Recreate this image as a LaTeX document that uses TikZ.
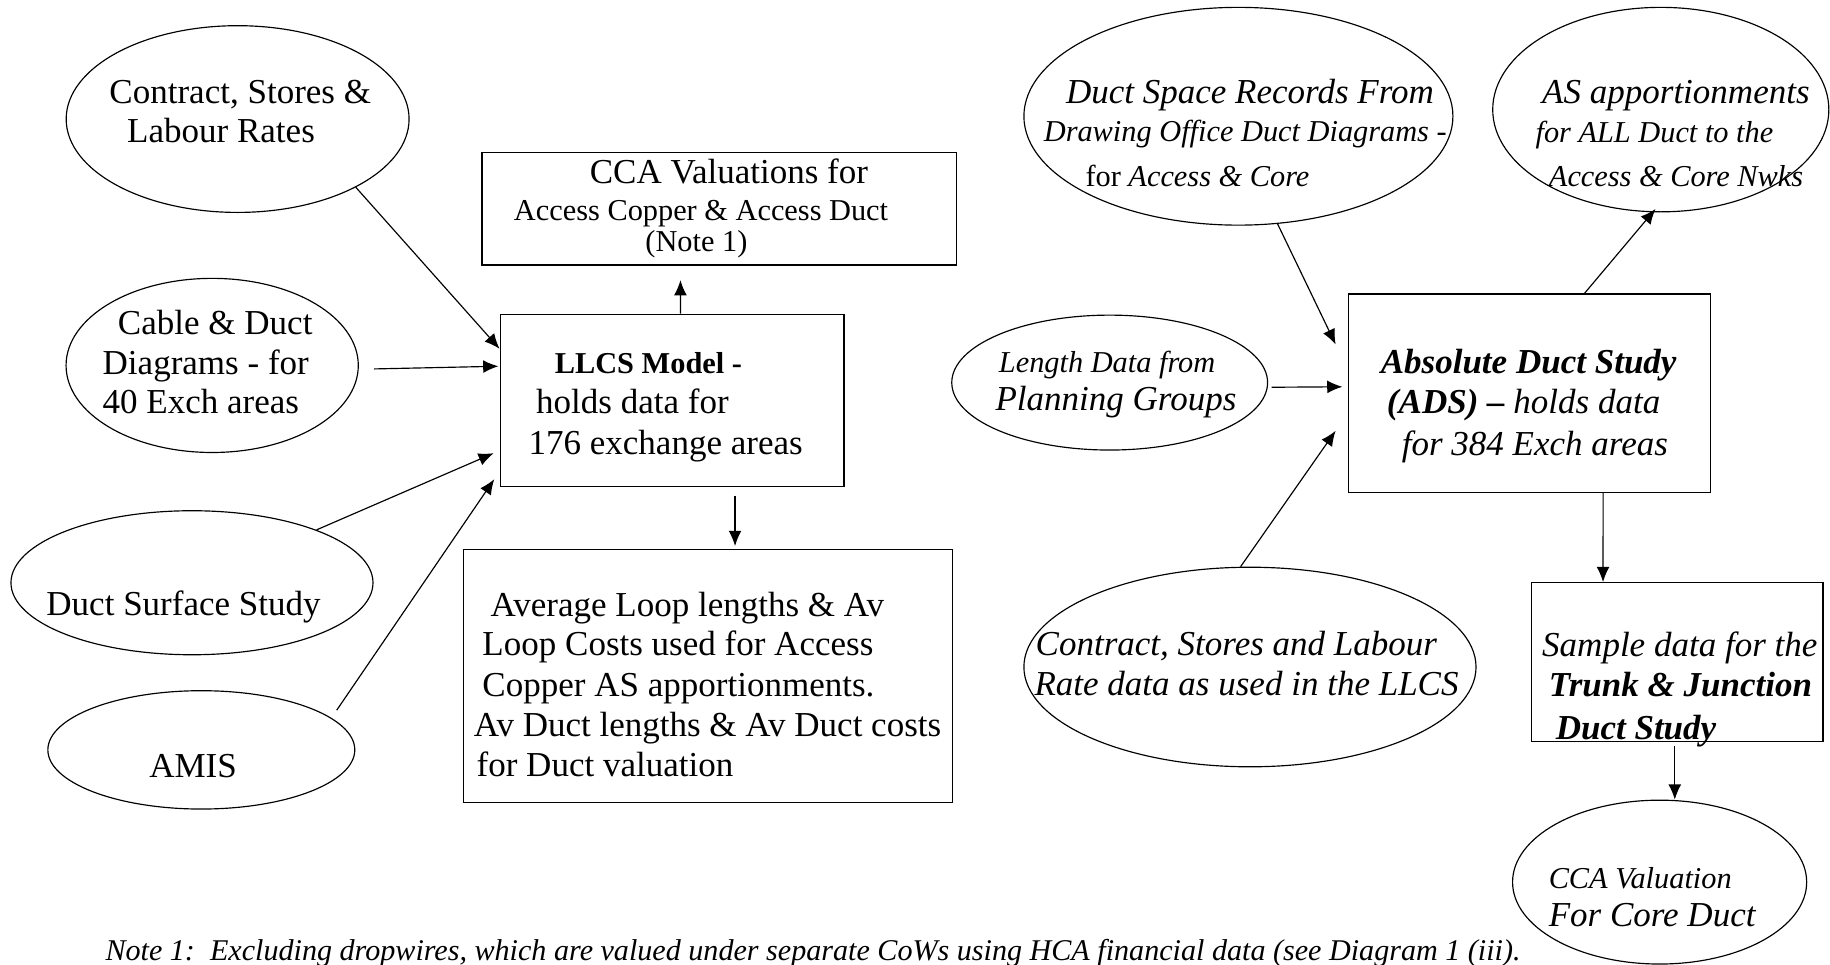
\documentclass[tikz,border=0pt]{standalone}
\usepackage{fontspec}
\setmainfont{Liberation Serif}
\usetikzlibrary{shapes.geometric,arrows.meta,calc}
\tikzset{
  ell/.style={draw, ellipse, inner sep=0pt, line width=0.5pt},
  box/.style={draw, rectangle, inner sep=0pt, line width=0.6pt},
  txt/.style={anchor=base west, inner sep=0pt, font=\fontsize{15}{18}\selectfont},
  txs/.style={anchor=base west, inner sep=0pt, font=\fontsize{13}{16}\selectfont},
  arr/.style={-{Latex[length=6.5pt,width=5.5pt]}, line width=0.5pt},
}
\begin{document}
\begin{tikzpicture}[x=0.5pt,y=-0.5pt]
\fill[white] (0,0) rectangle (1568,826);
\useasboundingbox (0,0) rectangle (1568,826);

% ---------------- left part ----------------
\node[ell, minimum width=146.9pt, minimum height=80pt] (E1) at (203.6,102) {};
\node[txt] (t1a) at (93.4,89) {Contract, Stores \&};
\node[txt] (t1b) at (108.6,122) {Labour Rates};

\node[ell, minimum width=125.2pt, minimum height=74.6pt] (E2) at (181.8,313.1) {};
\node[txt] (t2a) at (100.7,286.6) {Cable \& Duct};
\node[txt] (t2b) at (87.6,320.6) {Diagrams - for};
\node[txt] (t2c) at (87.6,354.5) {40 Exch areas};

\node[ell, minimum width=155.1pt, minimum height=61.7pt] (E3) at (164.5,499.3) {};
\node[txt] (t3) at (39.4,527.5) {Duct Surface Study};

\node[ell, minimum width=131.5pt, minimum height=50.7pt] (E4) at (172.5,642.5) {};
\node[txt] (t4) at (127.5,666) {AMIS};

\node[box, minimum width=203.3pt, minimum height=48.25pt] (CCA) at (616.3,178.8) {};
\node[txt] (tc1) at (505,157) {CCA Valuations for};
\node[txs] (tc2) at (440,188.6) {Access Copper \& Access Duct};
\node[txs] (tc3) at (552.6,215.7) {(Note 1)};

\node[box, minimum width=147.2pt, minimum height=73.8pt] (LLCS) at (575.8,343.2) {};
\node[txs, font=\fontsize{13}{16}\selectfont\bfseries] (tl1) at (475,320) {LLCS Model -};
\node[txt] (tl2) at (459,354) {holds data for};
\node[txt] (tl3) at (452.5,389) {176 exchange areas};

\node[box, minimum width=209.5pt, minimum height=108.4pt] (AVG) at (606.5,579.1) {};
\node[txt] (ta1) at (420,528) {Average Loop lengths \& Av};
\node[txt] (ta2) at (413,562) {Loop Costs used for Access};
\node[txt] (ta3) at (413,596.5) {Copper AS apportionments.};
\node[txt] (ta4) at (405.6,630.7) {Av Duct lengths \& Av Duct costs};
\node[txt] (ta5) at (408,665) {for Duct valuation};

% ---------------- right part ----------------
\node[ell, minimum width=183.8pt, minimum height=93.3pt] (E5) at (1061.1,99.6) {};
\node[txt, font=\fontsize{15}{18}\selectfont\itshape] (t5a) at (913,88.5) {Duct Space Records From};
\node[txs, font=\fontsize{13}{16}\selectfont\itshape] (t5b) at (894,121.4) {Drawing Office Duct Diagrams -};
\node[txs] (t5c) at (929.7,160) {for \textit{Access \& Core}};

\node[ell, minimum width=144pt, minimum height=87.6pt] (E6) at (1423,93.9) {};
\node[txt, font=\fontsize{15}{18}\selectfont\itshape] (t6a) at (1321,88.6) {AS apportionments};
\node[txs, font=\fontsize{13}{16}\selectfont\itshape] (t6b) at (1315.3,122.5) {for ALL Duct to the};
\node[txs, font=\fontsize{13}{16}\selectfont\itshape] (t6c) at (1326.8,160) {Access \& Core Nwks};

\node[ell, minimum width=135.3pt, minimum height=57.8pt] (E7) at (950.8,327.8) {};
\node[txs, font=\fontsize{13}{16}\selectfont\itshape] (t7a) at (855.5,319.3) {Length Data from};
\node[txt, font=\fontsize{15}{18}\selectfont\itshape] (t7b) at (852.6,351.4) {Planning Groups};

\node[box, minimum width=155pt, minimum height=85pt] (ADS) at (1310.6,337) {};
\node[txt, font=\fontsize{15}{18}\selectfont\bfseries\itshape] (td1) at (1182.7,320) {Absolute Duct Study};
\node[txt, font=\fontsize{15}{18}\selectfont\itshape] (td2) at (1188,354) {{\bfseries (ADS) –} holds data};
\node[txt, font=\fontsize{15}{18}\selectfont\itshape] (td3) at (1200.7,390) {for 384 Exch areas};

\node[ell, minimum width=193.7pt, minimum height=85.5pt] (E8) at (1071,571.5) {};
\node[txt, font=\fontsize{15}{18}\selectfont\itshape] (t8a) at (887,561.3) {Contract, Stores and Labour};
\node[txt, font=\fontsize{15}{18}\selectfont\itshape] (t8b) at (886,595.6) {Rate data as used in the LLCS};

\node[box, minimum width=125pt, minimum height=67.9pt] (SAM) at (1437,567.2) {};
\node[txt, font=\fontsize{15}{18}\selectfont\itshape] (ts1) at (1321,562.7) {Sample data for the};
\node[txt, font=\fontsize{15}{18}\selectfont\bfseries\itshape] (ts2) at (1326.6,597) {Trunk \& Junction};
\node[txt, font=\fontsize{15}{18}\selectfont\bfseries\itshape] (ts3) at (1332.6,633.5) {Duct Study};

\node[ell, minimum width=126pt, minimum height=70.2pt] (E9) at (1422,755.8) {};
\node[txs, font=\fontsize{13}{16}\selectfont\itshape] (t9a) at (1326.6,761) {CCA Valuation};
\node[txt, font=\fontsize{15}{18}\selectfont\itshape] (t9b) at (1326.6,794) {For Core Duct};

% note
\node[txs, font=\fontsize{12.9}{15}\selectfont\itshape] (note) at (90,823) {Note 1:\ \ Excluding dropwires, which are valued under separate CoWs using HCA financial data (see Diagram 1 (iii).};

% ---------------- connectors ----------------
\draw[arr] (E1.-30) -- ($(LLCS.north west)+(0,30)$);
\draw[arr] ($(E2.east)+(13,3)$) -- ($(LLCS.north west)+(-1,45)$);
\draw[arr] (E3.23) -- ($(LLCS.north west)+(-5,119.5)$);
\draw[arr] ($(E4.center)+(116,-34)$) -- ($(LLCS.south west)+(-4.5,-7)$);
\draw[arr] ($(LLCS.north)+(7.2,0)$) -- ($(CCA.south)+(-33.3,12.4)$);
\draw[arr] ($(LLCS.south)+(54,7)$) -- ($(AVG.north)+(23.3,-2.3)$);

\draw[arr] (E5.-70) -- ($(ADS.north west)+(-10.6,43.7)$);
\draw[arr] ($(E7.east)+(3,4)$) -- ($(ADS.north west)+(-4.8,80)$);
\draw[arr] ($(E8.north)+(-8,0)$) -- ($(ADS.south west)+(-10.6,-53.5)$);
\draw[arr] ($(ADS.north)+(47,0)$) -- ($(E6.south)+(-4.5,-3)$);
\draw[arr] ($(ADS.south)+(63,0)$) -- ($(SAM.north)+(-63.5,0)$);
\draw[arr] ($(SAM.south)+(-2,3.4)$) -- ($(E9.north)+(13,0)$);
\end{tikzpicture}
\end{document}
